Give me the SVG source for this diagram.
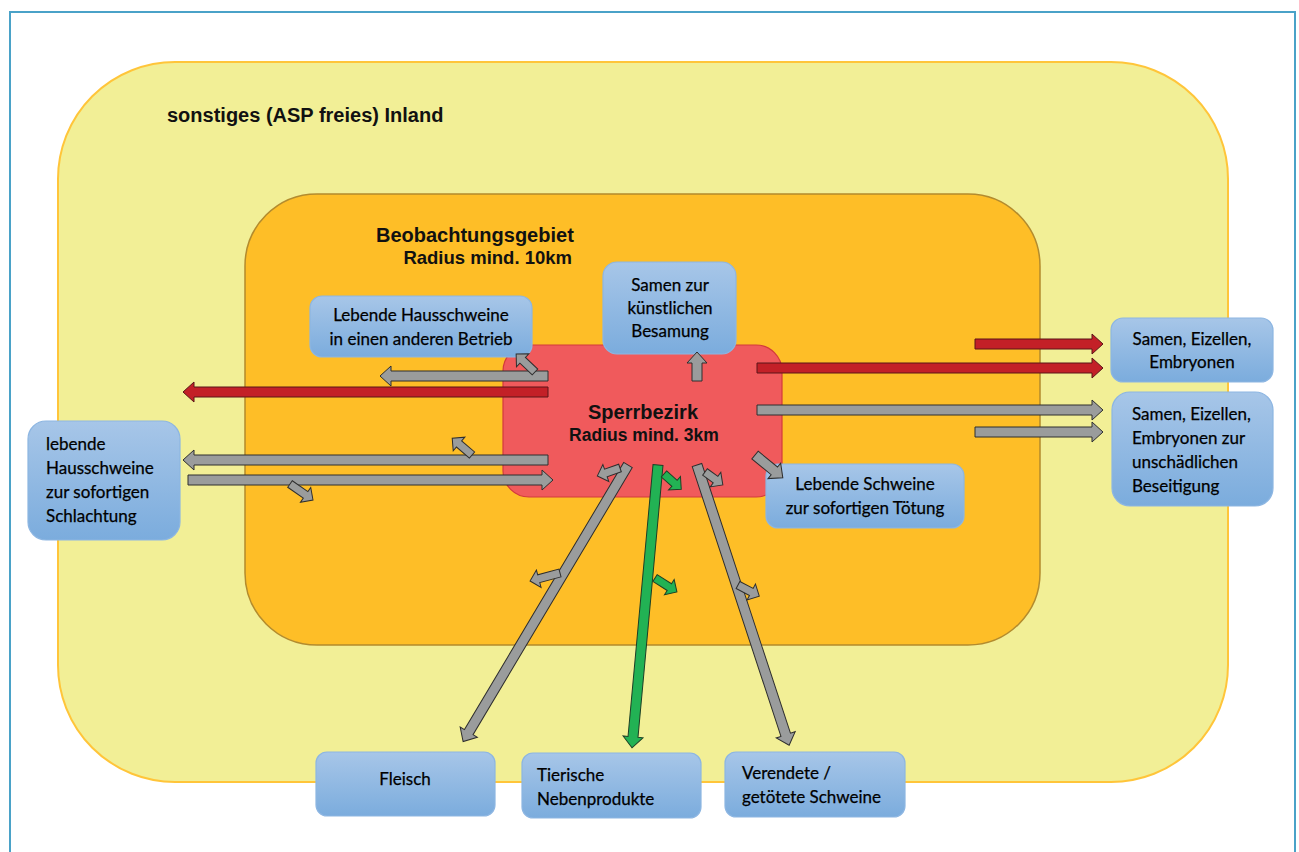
<svg xmlns="http://www.w3.org/2000/svg" width="1299" height="852" viewBox="0 0 1299 852">
<defs>
<linearGradient id="bg" x1="0" y1="0" x2="0" y2="1">
<stop offset="0" stop-color="#A7C6E8"/>
<stop offset="1" stop-color="#7BACDD"/>
</linearGradient>
<style>
.box{fill:url(#bg);stroke:#8DB6E2;stroke-width:1.2}
.bt{font-family:Lato,"Open Sans",sans-serif;font-size:17px;fill:#000;stroke:#000;stroke-width:0.25}
.c{text-anchor:middle}
.h{font-family:"Liberation Sans",Arial,sans-serif;font-weight:bold;fill:#111}
.g{fill:#9A9C9C;stroke:#2e2e2e;stroke-width:1}
.r{fill:#C32027;stroke:#5a1518;stroke-width:1}
.gr{fill:#22B254;stroke:#1c3f26;stroke-width:1}
</style>
</defs>
<rect x="0" y="0" width="1299" height="852" fill="#ffffff"/>
<rect x="10" y="12" width="1285" height="860" fill="none" stroke="#4AA2C8" stroke-width="2"/>

<g id="inland">
<rect x="58" y="62" width="1170" height="720" rx="117" ry="117" fill="#F2EF96" stroke="#FFC53A" stroke-width="2"/>
<text class="h" x="167" y="122" font-size="20">sonstiges (ASP freies) Inland</text>
</g>
<g id="beobachtungsgebiet">
<rect x="245" y="194" width="795" height="451" rx="72" ry="72" fill="#FEBE27" stroke="#B38B2D" stroke-width="1.5"/>
<text class="h" x="376" y="242" font-size="20">Beobachtungsgebiet</text>
<text class="h" x="572" y="264" font-size="18.5" text-anchor="end">Radius mind. 10km</text>
</g>
<g id="sperrbezirk">
<rect x="503" y="345" width="279" height="152" rx="26" ry="26" fill="#F05A5C" stroke="#D23A3C" stroke-width="1.2"/>
<text class="h" x="643" y="419" font-size="20" text-anchor="middle">Sperrbezirk</text>
<text class="h" x="644" y="441" font-size="17.5" text-anchor="middle">Radius mind. 3km</text>
</g>

<g id="n_betrieb">
<rect class="box" x="310" y="296" width="222" height="61" rx="12"/>
<text class="bt c" x="421" y="321">Lebende Hausschweine</text>
<text class="bt c" x="421" y="345">in einen anderen Betrieb</text>
</g>
<g id="n_besamung">
<rect class="box" x="603" y="262" width="133" height="92" rx="14"/>
<text class="bt c" x="670" y="291">Samen zur</text>
<text class="bt c" x="670" y="314">künstlichen</text>
<text class="bt c" x="670" y="337">Besamung</text>
</g>
<g id="n_samen">
<rect class="box" x="1111" y="318" width="162" height="64" rx="12"/>
<text class="bt c" x="1192" y="345">Samen, Eizellen,</text>
<text class="bt c" x="1192" y="368">Embryonen</text>
</g>
<g id="n_beseitigung">
<rect class="box" x="1112" y="392" width="161" height="114" rx="18"/>
<text class="bt" x="1132" y="420">Samen, Eizellen,</text>
<text class="bt" x="1132" y="444">Embryonen zur</text>
<text class="bt" x="1132" y="468">unschädlichen</text>
<text class="bt" x="1132" y="492">Beseitigung</text>
</g>
<g id="n_toetung">
<rect class="box" x="766" y="464" width="198" height="64" rx="12"/>
<text class="bt c" x="865" y="490">Lebende Schweine</text>
<text class="bt c" x="865" y="514">zur sofortigen Tötung</text>
</g>
<g id="n_schlachtung">
<rect class="box" x="28" y="421" width="152" height="119" rx="18"/>
<text class="bt" x="46" y="450">lebende</text>
<text class="bt" x="46" y="474">Hausschweine</text>
<text class="bt" x="46" y="498">zur sofortigen</text>
<text class="bt" x="46" y="522">Schlachtung</text>
</g>
<g id="n_fleisch">
<rect class="box" x="316" y="752" width="179" height="64" rx="11"/>
<text class="bt c" x="405" y="785">Fleisch</text>
</g>
<g id="n_nebenprodukte">
<rect class="box" x="522" y="753" width="179" height="65" rx="11"/>
<text class="bt" x="537" y="781">Tierische</text>
<text class="bt" x="537" y="805">Nebenprodukte</text>
</g>
<g id="n_verendete">
<rect class="box" x="725" y="752" width="180" height="65" rx="11"/>
<text class="bt" x="742" y="779">Verendete /</text>
<text class="bt" x="742" y="803">getötete Schweine</text>
</g>

<g id="connectors">
<polygon class="g" transform="translate(548,376) rotate(180)" points="0,-5 157,-5 157,-10 168,0 157,10 157,5 0,5"/>
<polygon class="r" transform="translate(548,392) rotate(180)" points="0,-5 354,-5 354,-10 365,0 354,10 354,5 0,5"/>
<polygon class="g" transform="translate(548,460) rotate(180)" points="0,-5 354,-5 354,-10 365,0 354,10 354,5 0,5"/>
<polygon class="g" transform="translate(188,480)" points="0,-5 354,-5 354,-10 365,0 354,10 354,5 0,5"/>
<polygon class="r" transform="translate(975,344)" points="0,-5 117,-5 117,-10 128,0 117,10 117,5 0,5"/>
<polygon class="r" transform="translate(757,368)" points="0,-5 335,-5 335,-10 346,0 335,10 335,5 0,5"/>
<polygon class="g" transform="translate(757,410)" points="0,-5 335,-5 335,-10 346,0 335,10 335,5 0,5"/>
<polygon class="g" transform="translate(975,432)" points="0,-5 117,-5 117,-10 128,0 117,10 117,5 0,5"/>
<polygon class="g" transform="translate(628,465) rotate(120.8)" points="0,-5 311,-5 311,-10 322,0 311,10 311,5 0,5"/>
<polygon class="gr" transform="translate(658,465) rotate(95.25)" points="0,-5 273,-5 273,-10 284,0 273,10 273,5 0,5"/>
<polygon class="g" transform="translate(697,465) rotate(71.8)" points="0,-5 284,-5 284,-10 295,0 284,10 284,5 0,5"/>
<polygon class="g" transform="translate(535,372) rotate(-136.5)" points="0,-4 17,-4 17,-9 26,0 17,9 17,4 0,4"/>
<polygon class="g" transform="translate(472,455) rotate(-139.6)" points="0,-4 17,-4 17,-9 26,0 17,9 17,4 0,4"/>
<polygon class="g" transform="translate(290,484) rotate(34.8)" points="0,-4 19,-4 19,-9 28,0 19,9 19,4 0,4"/>
<polygon class="g" transform="translate(697,381) rotate(-90)" points="0,-5 18,-5 18,-10 29,0 18,10 18,5 0,5"/>
<polygon class="g" transform="translate(755,455) rotate(39.4)" points="0,-5 25,-5 25,-10 36,0 25,10 25,5 0,5"/>
<polygon class="g" transform="translate(620,468) rotate(160.8)" points="0,-4 15,-4 15,-9 24,0 15,9 15,4 0,4"/>
<polygon class="g" transform="translate(560,573) rotate(165)" points="0,-4 22,-4 22,-9 31,0 22,9 22,4 0,4"/>
<polygon class="gr" transform="translate(664,474) rotate(41.4)" points="0,-4 14,-4 14,-9 23,0 14,9 14,4 0,4"/>
<polygon class="gr" transform="translate(655,578) rotate(32.5)" points="0,-4 17,-4 17,-9 26,0 17,9 17,4 0,4"/>
<polygon class="g" transform="translate(705,472) rotate(35.8)" points="0,-4 13,-4 13,-9 22,0 13,9 13,4 0,4"/>
<polygon class="g" transform="translate(738,585) rotate(27.6)" points="0,-4 15,-4 15,-9 24,0 15,9 15,4 0,4"/>
</g>
</svg>
